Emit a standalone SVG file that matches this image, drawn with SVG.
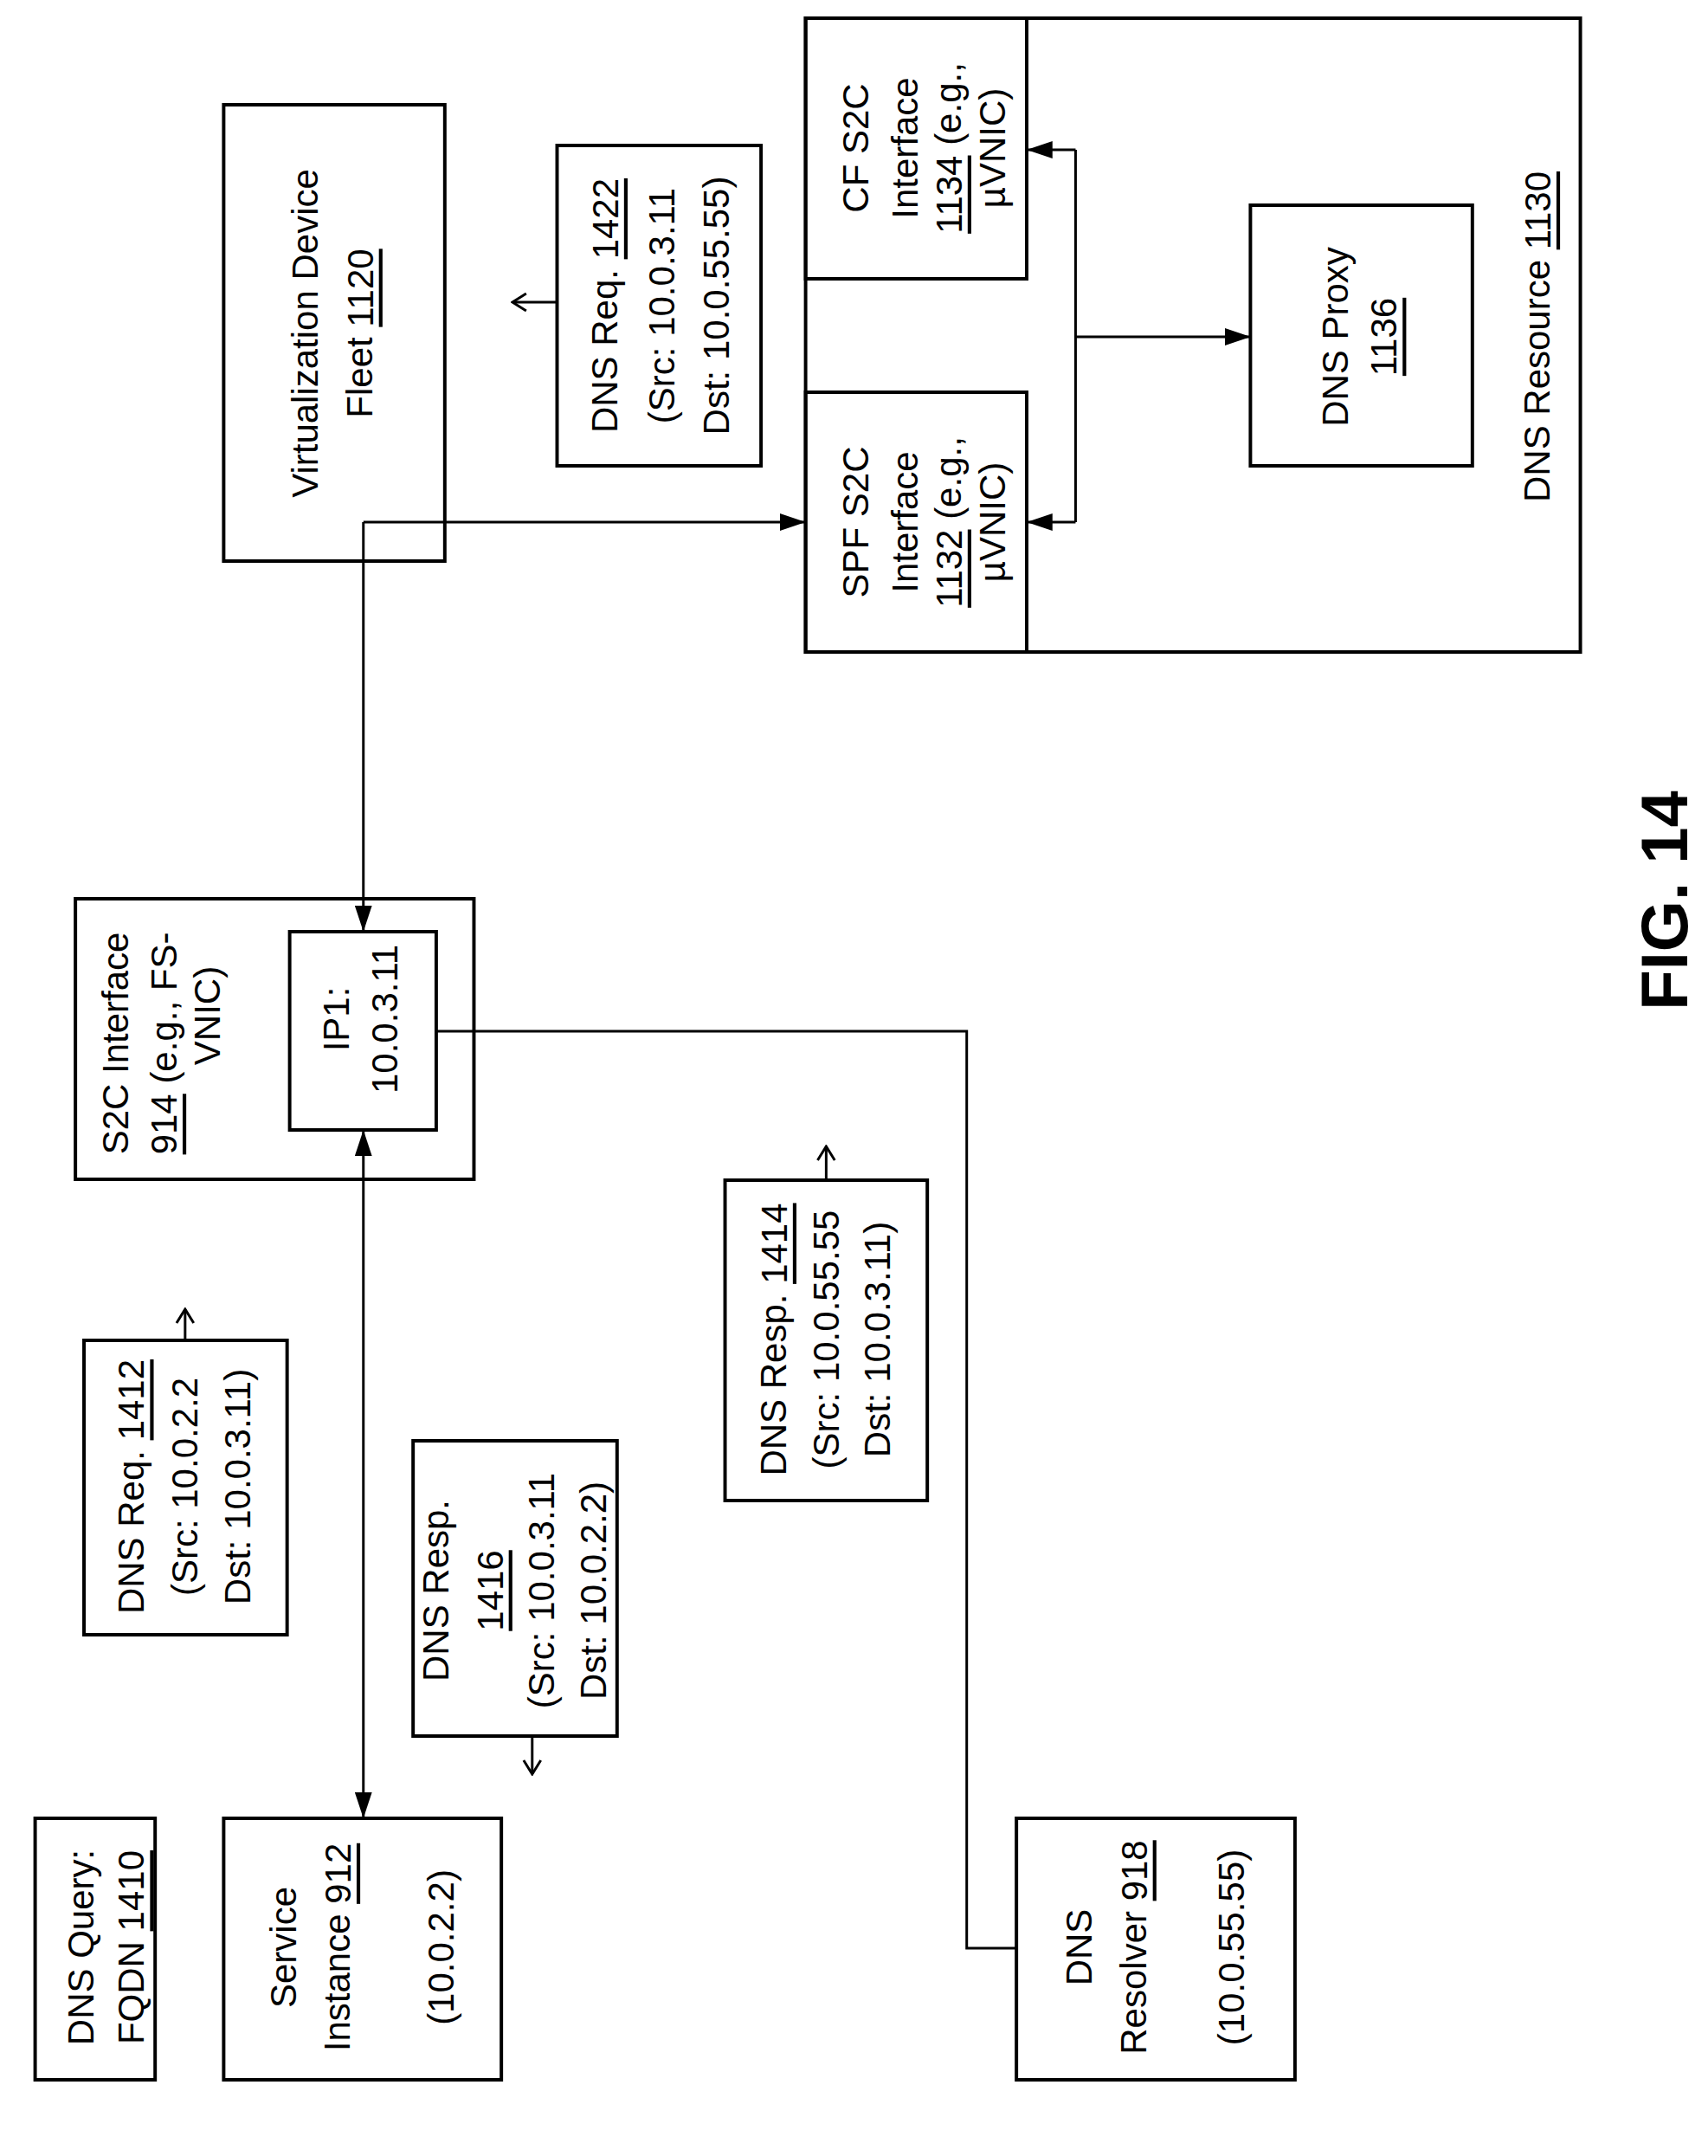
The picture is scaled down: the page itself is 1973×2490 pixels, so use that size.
<svg xmlns="http://www.w3.org/2000/svg" width="1973" height="2490" viewBox="0 0 1973 2490">
<style>
.b{fill:none;stroke:#000;stroke-width:4}
.c{fill:none;stroke:#000;stroke-width:3}
text{font-family:"Liberation Sans",Arial,sans-serif;font-size:42px;fill:#000;text-anchor:middle;dominant-baseline:central}
.u{text-decoration:underline}
</style>
<defs>
<marker id="F" viewBox="0 0 30 20" refX="30" refY="10" markerWidth="30" markerHeight="20" markerUnits="userSpaceOnUse" orient="auto-start-reverse"><path d="M0,0 L30,10 L0,20 z" fill="#000"/></marker>
<marker id="o" viewBox="0 0 20 24" refX="18" refY="12" markerWidth="20" markerHeight="24" markerUnits="userSpaceOnUse" orient="auto"><path d="M2,2 L18,12 L2,22" fill="none" stroke="#000" stroke-width="3"/></marker>
</defs>
<g transform="matrix(0.99 0 0 1 0 0)">
<g id="connectors">
<path class="c" d="M424,603 L940,603" marker-end="url(#F)"/>
<path class="c" d="M424,603 L424,1076" marker-end="url(#F)"/>
<path class="c" d="M1255,173 L1255,603"/>
<path class="c" d="M1255,173 L1198,173" marker-end="url(#F)"/>
<path class="c" d="M1255,603 L1198,603" marker-end="url(#F)"/>
<path class="c" d="M1255,389 L1459,389" marker-end="url(#F)"/>
<path class="c" d="M424,1305 L424,2100" marker-start="url(#F)" marker-end="url(#F)"/>
<path class="c" d="M509,1191 L1128,1191 L1128,2250 L1186,2250"/>
<path class="c" d="M650,349 L598,349" marker-end="url(#o)"/>
<path class="c" d="M216,1548 L216,1512" marker-end="url(#o)"/>
<path class="c" d="M621,2005 L621,2049" marker-end="url(#o)"/>
<path class="c" d="M964,1363 L964,1324" marker-end="url(#o)"/>
</g>
<g id="vdf"><rect class="b" x="261" y="121" width="258" height="527"/>
<text transform="translate(356,385) rotate(-90)">Virtualization Device</text>
<text transform="translate(420,385) rotate(-90)">Fleet <tspan class="u">1120</tspan></text></g>
<g id="req1422"><rect class="b" x="650" y="168" width="238" height="370"/>
<text transform="translate(706,353) rotate(-90)">DNS Req. <tspan class="u">1422</tspan></text>
<text transform="translate(772,353) rotate(-90)">(Src: 10.0.3.11</text>
<text transform="translate(836,353) rotate(-90)">Dst: 10.0.55.55)</text></g>
<g id="dnsres"><rect class="b" x="940" y="21" width="904" height="732"/>
<text transform="translate(1794,389) rotate(-90)">DNS Resource <tspan class="u">1130</tspan></text></g>
<g id="cf"><rect class="b" x="940" y="21" width="258" height="301"/>
<text transform="translate(999,171) rotate(-90)">CF S2C</text>
<text transform="translate(1056,171) rotate(-90)">Interface</text>
<text transform="translate(1107,171) rotate(-90)"><tspan class="u">1134</tspan> (e.g.,</text>
<text transform="translate(1158,171) rotate(-90)">µVNIC)</text></g>
<g id="spf"><rect class="b" x="940" y="453" width="258" height="300"/>
<text transform="translate(999,603) rotate(-90)">SPF S2C</text>
<text transform="translate(1056,603) rotate(-90)">Interface</text>
<text transform="translate(1107,603) rotate(-90)"><tspan class="u">1132</tspan> (e.g.,</text>
<text transform="translate(1158,603) rotate(-90)">µVNIC)</text></g>
<g id="proxy"><rect class="b" x="1459" y="237" width="259" height="301"/>
<text transform="translate(1558,389) rotate(-90)">DNS Proxy</text>
<text transform="translate(1615,389) rotate(-90)" class="u">1136</text></g>
<g id="s2c"><rect class="b" x="88" y="1038" width="465" height="324"/>
<text transform="translate(135,1205) rotate(-90)">S2C Interface</text>
<text transform="translate(191,1205) rotate(-90)"><tspan class="u">914</tspan> (e.g., FS-</text>
<text transform="translate(242,1173) rotate(-90)">VNIC)</text></g>
<g id="ip1"><rect class="b" x="338" y="1076" width="171" height="229"/>
<text transform="translate(393,1177) rotate(-90)">IP1:</text>
<text transform="translate(449,1177) rotate(-90)">10.0.3.11</text></g>
<g id="req1412"><rect class="b" x="98" y="1548" width="237" height="340"/>
<text transform="translate(153,1717) rotate(-90)">DNS Req. <tspan class="u">1412</tspan></text>
<text transform="translate(216,1717) rotate(-90)">(Src: 10.0.2.2</text>
<text transform="translate(277,1717) rotate(-90)">Dst: 10.0.3.11)</text></g>
<g id="resp1416"><rect class="b" x="482" y="1664" width="238" height="341"/>
<text transform="translate(509,1837) rotate(-90)">DNS Resp.</text>
<text transform="translate(572,1837) rotate(-90)" class="u">1416</text>
<text transform="translate(632,1837) rotate(-90)">(Src: 10.0.3.11</text>
<text transform="translate(693,1837) rotate(-90)">Dst: 10.0.2.2)</text></g>
<g id="resp1414"><rect class="b" x="846" y="1363" width="236" height="370"/>
<text transform="translate(903,1547) rotate(-90)">DNS Resp. <tspan class="u">1414</tspan></text>
<text transform="translate(964,1547) rotate(-90)">(Src: 10.0.55.55</text>
<text transform="translate(1024,1547) rotate(-90)">Dst: 10.0.3.11)</text></g>
<g id="query"><rect class="b" x="41" y="2100" width="140" height="302"/>
<text transform="translate(95,2249) rotate(-90)">DNS Query:</text>
<text transform="translate(153,2249) rotate(-90)">FQDN <tspan class="u">1410</tspan></text></g>
<g id="service"><rect class="b" x="261" y="2100" width="324" height="302"/>
<text transform="translate(331,2249) rotate(-90)">Service</text>
<text transform="translate(394,2249) rotate(-90)">Instance <tspan class="u">912</tspan></text>
<text transform="translate(515,2249) rotate(-90)">(10.0.2.2)</text></g>
<g id="resolver"><rect class="b" x="1186" y="2100" width="325" height="302"/>
<text transform="translate(1259,2249) rotate(-90)">DNS</text>
<text transform="translate(1323,2249) rotate(-90)">Resolver <tspan class="u">918</tspan></text>
<text transform="translate(1437,2249) rotate(-90)">(10.0.55.55)</text></g>
</g>
<text transform="translate(1922,1040) rotate(-90)" style="font-size:76px;font-weight:bold">FIG. 14</text>
</svg>
